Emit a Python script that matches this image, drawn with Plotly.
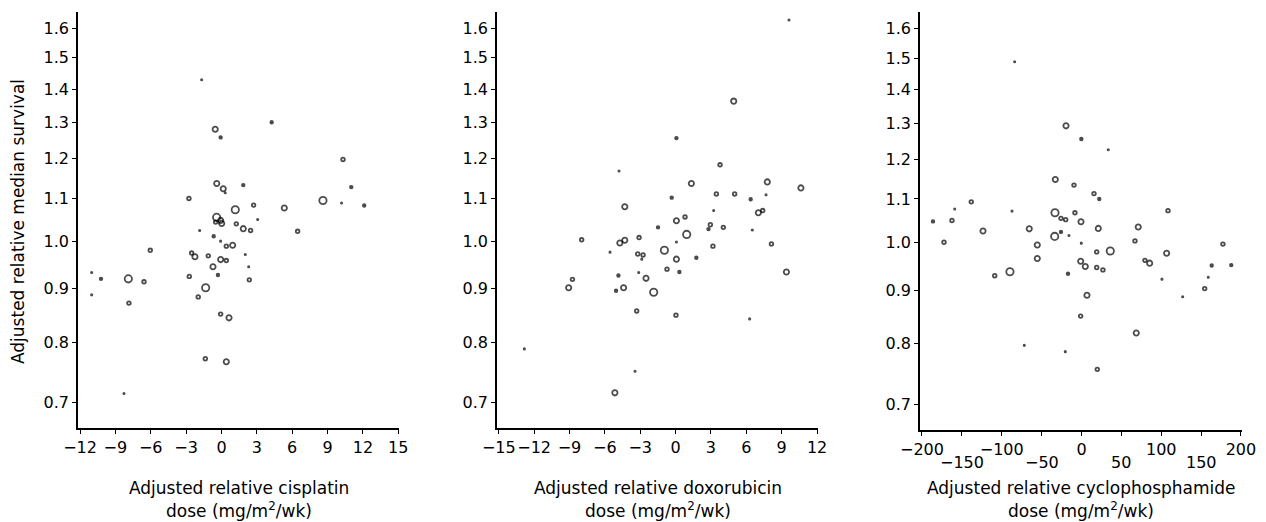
import math
import plotly.graph_objects as go

W, H = 1266, 522

# ---------------- data ----------------
# size class: t = tiny dot, f = small filled dot, s/m/l = small/medium/large open circle
cis_x = [-1.68, 4.26, -0.53, -0.07, 10.31, -0.40, 0.15, 0.32, 1.85, 11.01,
         -2.76, 8.61, 10.19, 12.11, 2.73, 5.33, 1.17, 6.46, 3.07, -0.41,
         -0.07, 0.02, -0.49, 1.26, 1.85, 2.47, -1.85, -0.66, -0.07, 0.41,
         0.95, 2.02, -2.53, -2.25, -1.12, -0.07, 0.41, 2.31, -0.72, -2.73,
         -0.30, 2.36, -1.34, -1.97, -0.07, 0.64, -6.04, -11.01, -10.22, -11.01,
         -7.90, -6.57, -7.85, -8.27, -1.37, 0.41]
cis_y = [1.429, 1.301, 1.281, 1.258, 1.198, 1.136, 1.123, 1.113, 1.132, 1.127,
         1.099, 1.094, 1.088, 1.082, 1.083, 1.076, 1.072, 1.022, 1.049, 1.054,
         1.047, 1.040, 1.043, 1.039, 1.028, 1.024, 1.024, 1.011, 1.000, 0.989,
         0.991, 0.971, 0.974, 0.966, 0.968, 0.960, 0.958, 0.945, 0.945, 0.925,
         0.928, 0.918, 0.902, 0.884, 0.851, 0.844, 0.980, 0.933, 0.920, 0.888,
         0.920, 0.914, 0.872, 0.714, 0.771, 0.766]
cis_w = list("tfmfsmmtff" "sltfsmlstl" "mmssmstfts" "mtsmsmstms" "fslssmstft" "lsstsm")

dox_x = [9.62, 4.93, 0.07, 3.77, -4.80, 1.34, 7.78, 10.63, 3.46, 5.01,
         7.67, -0.33, 6.37, -4.31, 3.23, 7.02, 7.39, 0.80, 0.07, -1.49,
         2.95, 2.79, 4.05, 0.94, 6.51, -7.97, -4.73, -4.31, -3.10, 0.07,
         -0.95, -5.56, -3.21, -2.76, -2.87, 3.17, 8.13, 0.07, 1.76, -0.73,
         0.32, -4.85, -3.13, -2.51, -5.05, -4.41, -1.86, -3.30, 0.03, 6.28,
         -9.07, -8.75, 9.40, -12.83, -3.44, -5.15]
dox_y = [1.631, 1.363, 1.256, 1.184, 1.168, 1.136, 1.140, 1.125, 1.110, 1.110,
         1.108, 1.101, 1.097, 1.079, 1.070, 1.065, 1.070, 1.055, 1.046, 1.031,
         1.037, 1.027, 1.031, 1.015, 1.025, 1.003, 0.996, 1.002, 1.008, 0.998,
         0.980, 0.976, 0.972, 0.970, 0.961, 0.989, 0.994, 0.961, 0.964, 0.940,
         0.934, 0.927, 0.933, 0.921, 0.896, 0.902, 0.893, 0.857, 0.849, 0.842,
         0.902, 0.919, 0.934, 0.788, 0.750, 0.715]
dox_w = list("tmfstmmmss" "tffmtmssmf" "sfsltsmmst" "ltsstssmfs" "fftmfmlsst" "msmttm")

cyc_x = [-83.8, -19.4, -0.2, 33.6, -32.8, -9.4, 15.7, 22.3, -138.2, -159.0,
         108.5, -87.1, -186.2, -162.4, -33.2, -25.7, -19.8, -8.2, -0.6, -123.5,
         -65.5, 21.1, 71.2, -33.6, -25.7, -15.7, -172.4, -55.4, -0.2, 67.1,
         177.4, 36.1, 19.1, 106.8, -55.4, -1.0, 4.8, 19.1, 26.9, 79.6,
         85.5, -108.8, -89.7, -16.9, 100.9, 126.9, 6.9, -1.0, 154.5, 159.0,
         163.3, 187.8, 68.7, -71.7, -20.3, 19.8]
cyc_y = [1.488, 1.292, 1.255, 1.226, 1.148, 1.134, 1.113, 1.100, 1.093, 1.076,
         1.072, 1.071, 1.047, 1.049, 1.067, 1.054, 1.051, 1.067, 1.046, 1.025,
         1.030, 1.031, 1.034, 1.013, 1.023, 1.015, 1.000, 0.994, 0.998, 1.003,
         0.996, 0.981, 0.979, 0.976, 0.965, 0.959, 0.948, 0.946, 0.941, 0.961,
         0.955, 0.929, 0.937, 0.933, 0.922, 0.887, 0.890, 0.850, 0.903, 0.926,
         0.950, 0.951, 0.819, 0.797, 0.786, 0.756]
cyc_w = list("tmftmssfst" "stfslsssmm" "mmmlftsmts" "slsmmmmsss" "mslfttmsst" "ffmtts")

y_ticks = [0.7, 0.8, 0.9, 1.0, 1.1, 1.2, 1.3, 1.4, 1.5, 1.6]
cis_ticks = [-12, -9, -6, -3, 0, 3, 6, 9, 12, 15]
dox_ticks = [-15, -12, -9, -6, -3, 0, 3, 6, 9, 12]
cyc_upper = [-200, -100, 0, 100, 200]
cyc_lower = [-150, -50, 50, 150]

x_titles = [("Adjusted relative cisplatin", "dose (mg/m<sup>2</sup>/wk)"),
            ("Adjusted relative doxorubicin", "dose (mg/m<sup>2</sup>/wk)"),
            ("Adjusted relative cyclophosphamide", "dose (mg/m<sup>2</sup>/wk)")]
y_title = "Adjusted relative median survival"

# ---------------- styling ----------------
FONT = "DejaVu Sans"
STYLE = {"t": ("circle", 1.3), "f": ("circle", 2.6),
         "s": ("circle-open", 3.6), "m": ("circle-open", 5.3), "l": ("circle-open", 7.3)}


def fx(px):
    return px / W


def fy(py):
    return 1 - py / H


def lab(v):
    return ("\u2212" + str(abs(v))) if v < 0 else str(v)


def trace(x, y, w, xa, ya):
    return go.Scatter(
        x=x, y=y, mode="markers", xaxis=xa, yaxis=ya, showlegend=False, hoverinfo="skip",
        marker=dict(symbol=[STYLE[c][0] for c in w], size=[STYLE[c][1] for c in w],
                    color="black", line=dict(color="black", width=1.8)))


fig = go.Figure()
fig.add_trace(trace(cis_x, cis_y, cis_w, "x", "y"))
fig.add_trace(trace(dox_x, dox_y, dox_w, "x2", "y2"))
fig.add_trace(trace(cyc_x, cyc_y, cyc_w, "x3", "y3"))

common = dict(showline=True, linecolor="black", linewidth=1.5, ticks="outside", ticklen=4,
              tickwidth=1.3, tickcolor="black", showgrid=False, zeroline=False,
              automargin=False, tickangle=0,
              tickfont=dict(family=FONT, size=16, color="black"))

# pixel geometry of the three panels: (left, right, bottom, top), x range
panels = [
    ((78, 399, 428, 12), [-12.17, 15.06]),
    ((497, 818, 428, 12), [-15.15, 12.08]),
    ((920, 1242, 430, 12), [-202.5, 201.3]),
]
yr = [math.log10(0.6615), math.log10(1.660)]

layout = dict(width=W, height=H, margin=dict(l=0, r=0, t=0, b=0), template="none",
              paper_bgcolor="white", plot_bgcolor="white", showlegend=False)

xticks = [cis_ticks, dox_ticks, cyc_upper]
for i, ((l, r, b, t), xr) in enumerate(panels):
    sfx = "" if i == 0 else str(i + 1)
    tv = xticks[i]
    xa = dict(common, domain=[fx(l), fx(r)], range=xr, anchor="y" + sfx,
              tickmode="array", tickvals=tv, ticktext=[lab(v) for v in tv])
    if i == 2:
        xa["minor"] = dict(tickmode="array", tickvals=cyc_lower, ticks="outside", ticklen=4,
                           tickwidth=1.3, tickcolor="black", showgrid=False)
    layout["xaxis" + sfx] = xa
    layout["yaxis" + sfx] = dict(common, type="log", domain=[fy(b), fy(t)], range=yr,
                                 anchor="x" + sfx, tickmode="array", tickvals=y_ticks,
                                 ticktext=["%.1f" % v for v in y_ticks])

fig.update_layout(**layout)

ann = []
tfont = dict(family=FONT, size=17, color="black")
for i, ((l, r, b, t), xr) in enumerate(panels):
    cx = fx((l + r) / 2)
    ann.append(dict(text=x_titles[i][0], x=cx, y=fy(488), xref="paper", yref="paper",
                    xanchor="center", yanchor="middle", showarrow=False, font=tfont))
    ann.append(dict(text=x_titles[i][1], x=cx, y=fy(510), xref="paper", yref="paper",
                    xanchor="center", yanchor="middle", showarrow=False, font=tfont))
for v in cyc_lower:
    ann.append(dict(text=lab(v), x=v, y=fy(462), xref="x3", yref="paper", xanchor="center",
                    yanchor="middle", showarrow=False,
                    font=dict(family=FONT, size=16, color="black")))
ann.append(dict(text=y_title, x=fx(18), y=fy(222), xref="paper", yref="paper", textangle=-90,
                xanchor="center", yanchor="middle", showarrow=False, font=tfont))
fig.update_layout(annotations=ann)

fig.write_html("out.html")
